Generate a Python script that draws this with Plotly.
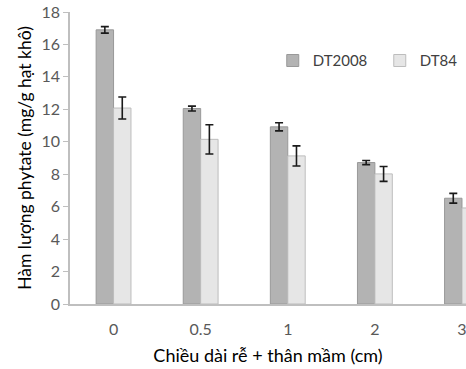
import plotly.graph_objects as go

categories = ["0", "0.5", "1", "2", "3"]
dt2008 = [16.9, 12.05, 10.92, 8.72, 6.52]
dt2008_err = [0.2, 0.15, 0.25, 0.13, 0.3]
dt84 = [12.08, 10.15, 9.13, 8.02, 5.92]
dt84_err = [0.68, 0.9, 0.62, 0.46, 0.4]

FONT = "Lato, 'Open Sans', sans-serif"

fig = go.Figure()
fig.add_trace(go.Bar(
    x=categories, y=dt2008, name="DT2008",
    marker=dict(color="#b3b3b3", line=dict(color="#999999", width=1)),
    error_y=dict(type="data", array=dt2008_err, color="#1a1a1a", thickness=1.6, width=4),
))
fig.add_trace(go.Bar(
    x=categories, y=dt84, name="DT84",
    marker=dict(color="#e6e6e6", line=dict(color="#bdbdbd", width=1)),
    error_y=dict(type="data", array=dt84_err, color="#1a1a1a", thickness=1.6, width=4),
))

fig.update_layout(
    width=466, height=369,
    margin=dict(l=70, r=0, t=12, b=65, autoexpand=False),
    paper_bgcolor="white", plot_bgcolor="white",
    barmode="group", bargap=0.6, bargroupgap=0,
    font=dict(family=FONT, size=16, color="#595959"),
    showlegend=True,
    legend=dict(orientation="h", x=0.512, y=0.833, xanchor="left", yanchor="middle",
                font=dict(family=FONT, size=15, color="#404040"),
                bgcolor="rgba(0,0,0,0)", itemwidth=30, traceorder="normal",
                entrywidth=62, entrywidthmode="pixels"),
    xaxis=dict(type="category", range=[-0.5, 4.046], showline=True,
               linecolor="#bfbfbf", linewidth=1.5, ticks="", showgrid=False,
               ticklabelstandoff=10, automargin=False,
               tickfont=dict(size=16, color="#595959"),
               title=dict(text="Chiều dài rễ + thân mầm (cm)", standoff=12,
                          font=dict(size=18, color="#000000"))),
    yaxis=dict(range=[0, 18], dtick=2, showline=True, linecolor="#bfbfbf",
               linewidth=1.5, ticks="outside", ticklen=5, tickcolor="#bfbfbf",
               showgrid=False, zeroline=False, automargin=False,
               tickfont=dict(size=16, color="#595959"),
               title=dict(text="Hàm lượng phytate (mg/g hạt khô)", standoff=5,
                          font=dict(size=17.5, color="#000000"))),
)

fig.write_html("out.html")
